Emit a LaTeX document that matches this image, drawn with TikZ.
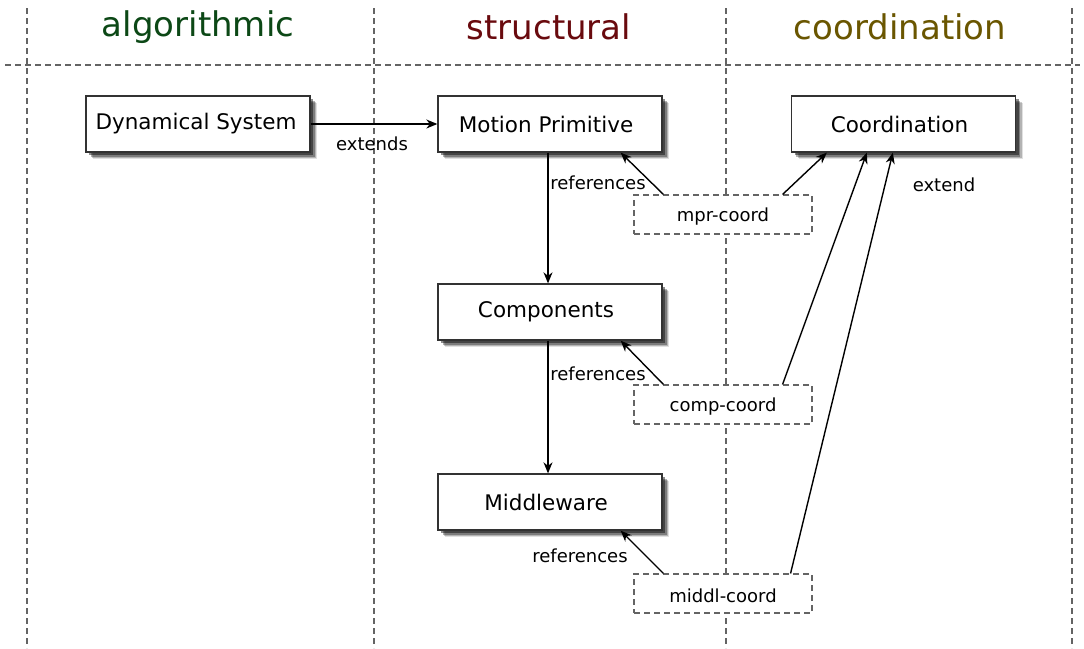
\documentclass[tikz,border=0pt]{standalone}
\usepackage{fontspec}
\setmainfont{DejaVu Sans}
\usetikzlibrary{arrows.meta,shadows,calc}
\definecolor{algcol}{RGB}{12,72,22}
\definecolor{strcol}{RGB}{105,10,14}
\definecolor{coocol}{RGB}{106,86,0}
\definecolor{gridcol}{RGB}{100,100,100}
\definecolor{boxcol}{RGB}{50,50,50}
\newcommand{\tsp}{\hspace*{8pt}}
\newcommand{\lowr}[1]{\raisebox{-2.5pt}[\height][\depth]{#1}}
\tikzset{
  gridline/.style={draw=gridcol, line width=1.1pt, dash pattern=on 6pt off 4pt},
  title/.style={font=\fontsize{34}{38}\selectfont, anchor=center},
  mainbox/.style={draw=boxcol, line width=1.3pt, fill=white, minimum width=224pt, minimum height=56pt,
     inner sep=0pt, font=\fontsize{21.5}{25}\selectfont,
     preaction={fill=black, opacity=0.12, transform canvas={xshift=7pt,yshift=-7pt}},
     preaction={fill=black, opacity=0.2, transform canvas={xshift=6pt,yshift=-6pt}},
     preaction={fill=black, opacity=0.3, transform canvas={xshift=4.5pt,yshift=-4.5pt}},
     preaction={fill=black, opacity=0.45, transform canvas={xshift=3pt,yshift=-3pt}}},
  coordbox/.style={draw=gridcol, line width=1.1pt, dash pattern=on 6pt off 4pt, fill=white,
     minimum width=178pt, minimum height=39pt, inner sep=0pt, font=\fontsize{18}{22}\selectfont},
  conn/.style={draw=black, line width=1.4pt, -{Stealth[length=11pt,width=9pt,inset=3.5pt]}},
  lbl/.style={font=\fontsize{18}{22}\selectfont, inner sep=0pt}
}
\begin{document}
\begin{tikzpicture}[x=1pt,y=-1pt]
\useasboundingbox (0,0) rectangle (1084,648);
\fill[white] (0,0) rectangle (1084,648);
% grid
\draw[gridline] (27,8) -- (27,648);
\draw[gridline] (374,8) -- (374,648);
\draw[gridline] (726,8) -- (726,648);
\draw[gridline] (1072,8) -- (1072,648);
\draw[gridline] (5,65) -- (1080,65);
% titles
\node[title, text=algcol] (talg) at (198,27) {algorithmic};
\node[title, text=strcol] (tstr) at (549,27) {structural};
\node[title, text=coocol] (tcoo) at (900,27) {coordination};
% boxes
\node[mainbox] (dyn) at (198,124) {Dynamical System\hspace*{4pt}};
\node[mainbox] (mp) at (550,124) {Motion Primitive\tsp};
\node[mainbox] (coord) at (903.5,124) {Coordination\tsp};
\node[mainbox] (comp) at (550,312) {Components\tsp};
\node[mainbox] (mid) at (550,502) {Middleware\tsp};
\node[coordbox] (mprc) at (723,214.5) {\lowr{mpr-coord}};
\node[coordbox] (compc) at (723,404.5) {\lowr{comp-coord}};
\node[coordbox] (midc) at (723,593.5) {\lowr{middl-coord}};
% connectors
\draw[conn] (dyn.east) -- (mp.west);
\draw[conn] ([xshift=-2pt]mp.south) -- ([xshift=-2pt]comp.north);
\draw[conn] ([xshift=-2pt]comp.south) -- ([xshift=-2pt]mid.north);
\draw[conn] ([xshift=30pt]mprc.north west) -- ([xshift=-42pt]mp.south east);
\draw[conn] ([xshift=30pt]compc.north west) -- ([xshift=-42pt]comp.south east);
\draw[conn] ([xshift=30pt]midc.north west) -- ([xshift=-42pt]mid.south east);
\draw[conn] ([xshift=-30pt]mprc.north east) -- ([xshift=36pt]coord.south west);
\draw[conn] ([xshift=-30pt]compc.north east) -- ([xshift=76pt]coord.south west);
\draw[conn] ([xshift=-22pt]midc.north east) -- ([xshift=102pt]coord.south west);
% labels
\node[lbl] (lext) at (372,144) {extends};
\node[lbl] (lr1) at (598,183) {references};
\node[lbl] (lr2) at (598,374) {references};
\node[lbl] (lr3) at (580,556) {references};
\node[lbl] (lextd) at (944,185) {extend};
\end{tikzpicture}
\end{document}
